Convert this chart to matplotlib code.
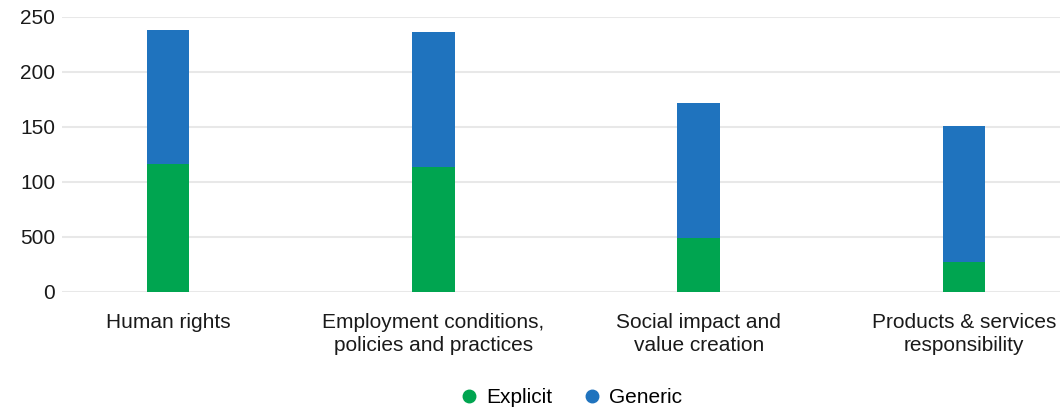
import matplotlib
matplotlib.use("Agg")
import matplotlib.pyplot as plt
from matplotlib.lines import Line2D

plt.rcParams['font.family'] = ['Liberation Sans', 'DejaVu Sans']

categories = ["Human rights", "Employment conditions,\npolicies and practices",
              "Social impact and\nvalue creation", "Products & services\nresponsibility"]
explicit = [116, 114, 49, 27]
generic = [122, 122, 123, 124]
ytick_vals = [0, 50, 100, 150, 200, 250]
ytick_labels = ["0", "500", "100", "150", "200", "250"]

green = "#00A550"
blue = "#1F73BE"

fig = plt.figure(figsize=(10.6, 4.13), dpi=100)
ax = fig.add_axes([0.0585, 0.293, 0.9485, 0.666])

x = list(range(len(categories)))
ax.bar(x, explicit, width=0.16, color=green, zorder=3)
ax.bar(x, generic, width=0.16, bottom=explicit, color=blue, zorder=3)

ax.set_ylim(0, 250)
ax.set_xlim(-0.4, 3.39)
ax.set_yticks(ytick_vals)
ax.set_yticklabels(ytick_labels, fontsize=15, color="#1a1a1a")
ax.set_xticks(x)
ax.set_xticklabels(categories, fontsize=15, color="#1a1a1a", linespacing=1.3)
ax.tick_params(axis='x', length=0, pad=15)
ax.tick_params(axis='y', length=0, pad=5)
ax.grid(axis='y', color="#e8e8e8", linewidth=1.5, zorder=0)
for s in ax.spines.values():
    s.set_visible(False)

handles = [Line2D([], [], marker='o', linestyle='', color=green, markersize=9, label="Explicit"),
           Line2D([], [], marker='o', linestyle='', color=blue, markersize=9, label="Generic")]
fig.legend(handles=handles, loc='center', bbox_to_anchor=(0.538, 0.037), ncol=2,
           frameon=False, fontsize=15, handletextpad=0.3, columnspacing=1.4,
           handlelength=1.0)

fig.savefig("out.png", dpi=100, facecolor="white")
